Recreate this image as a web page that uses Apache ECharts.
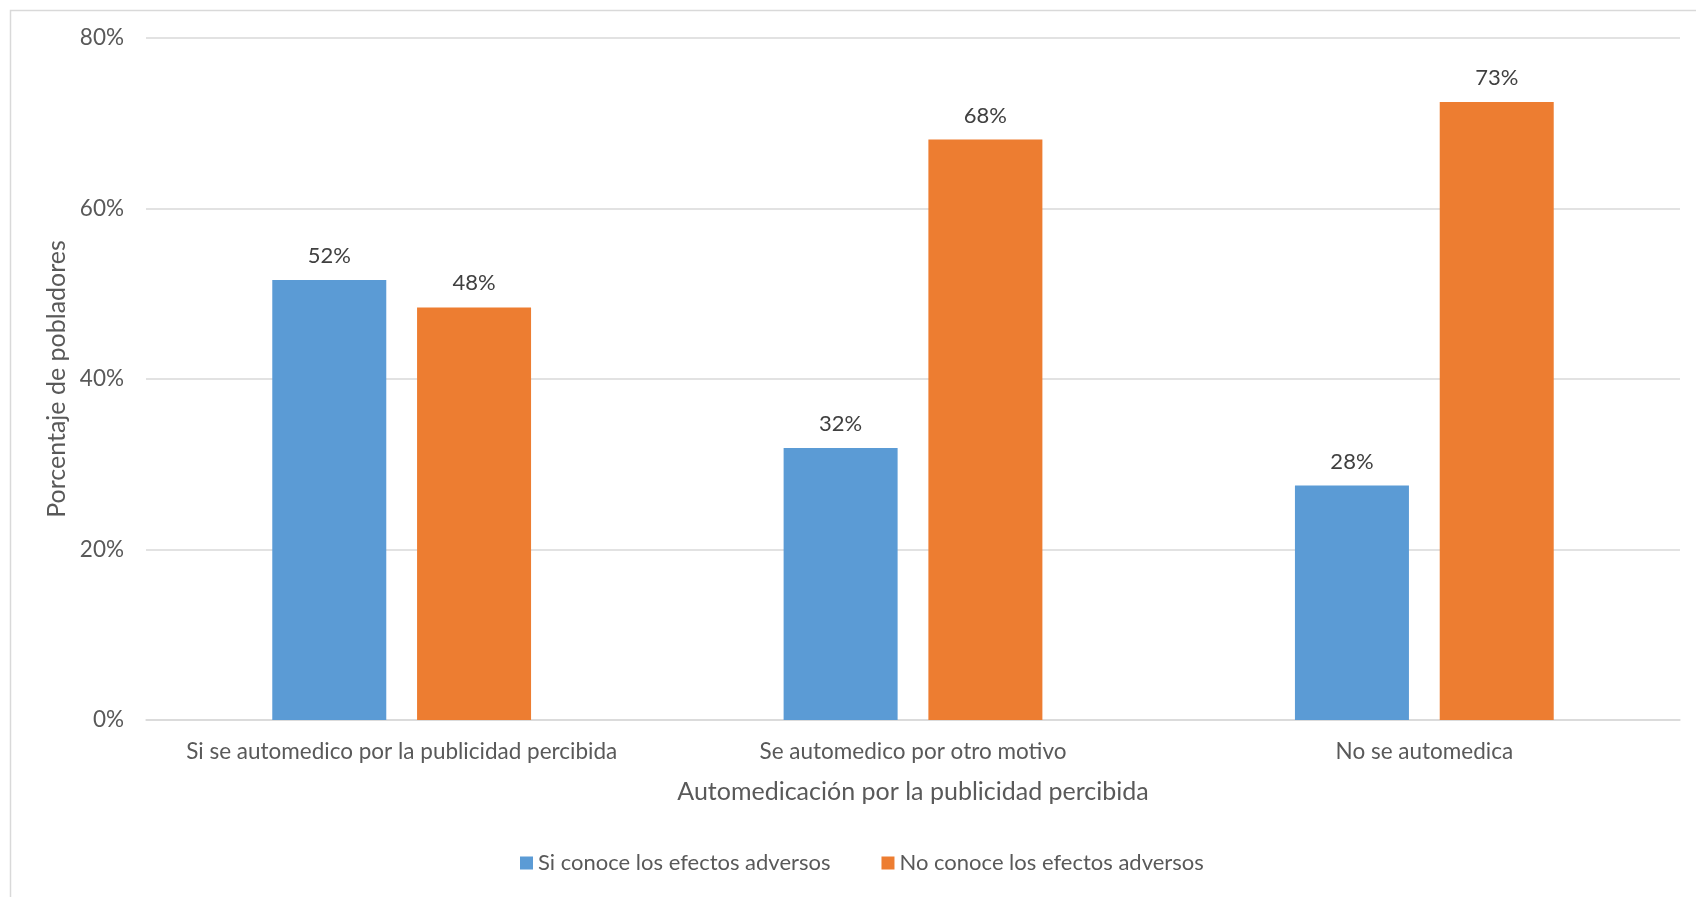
<!DOCTYPE html>
<html>
<head>
<meta charset="utf-8">
<script src="https://cdn.jsdelivr.net/npm/echarts@6/dist/echarts.min.js"></script>
<style>
html,body{margin:0;padding:0;background:#fff;}
#c{width:1696px;height:897px;}
</style>
</head>
<body>
<div id="c"></div>
<script>
const categories = ['Si se automedico por la publicidad percibida', 'Se automedico por otro motivo', 'No se automedica'];
const seriesNames = ['Si conoce los efectos adversos', 'No conoce los efectos adversos'];
const siConoce = [51.6, 31.9, 27.5];
const noConoce = [48.4, 68.1, 72.5];
const yTicks = [0, 20, 40, 60, 80];

const FONT = 'Lato';
const chart = echarts.init(document.getElementById('c'), null, {renderer: 'canvas'});
const labelCfg = {
  show: true, position: 'top', distance: 13,
  color: '#404040', fontSize: 22, fontFamily: FONT,
  formatter: p => Math.round(p.value) + '%'
};
chart.setOption({
  animation: false,
  backgroundColor: '#fff',
  textStyle: {fontFamily: FONT},
  graphic: [{
    type: 'rect', left: 8, top: 8,
    shape: {width: 1720, height: 920},
    style: {fill: 'none', stroke: '#D9D9D9', lineWidth: 1.5}
  }],
  grid: {left: 146, right: 16, top: 38, bottom: 177},
  legend: {
    left: 515, top: 847,
    itemWidth: 13, itemHeight: 13, itemGap: 51,
    icon: 'rect',
    textStyle: {color: '#595959', fontSize: 22, fontFamily: FONT},
    data: seriesNames
  },
  xAxis: {
    type: 'category', data: categories,
    axisLine: {lineStyle: {color: '#D9D9D9', width: 1.5}},
    axisTick: {show: false},
    axisLabel: {color: '#595959', fontSize: 22.5, fontFamily: FONT, margin: 20, interval: 0, hideOverlap: false},
    name: 'Automedicación por la publicidad percibida',
    nameLocation: 'middle', nameGap: 59,
    nameTextStyle: {color: '#595959', fontSize: 25, fontFamily: FONT}
  },
  yAxis: {
    type: 'value', min: yTicks[0], max: yTicks[yTicks.length - 1], interval: 20,
    axisLine: {show: false}, axisTick: {show: false},
    splitLine: {lineStyle: {color: '#D9D9D9', width: 1.5}},
    axisLabel: {color: '#595959', fontSize: 22.5, fontFamily: FONT, margin: 22, formatter: v => v + '%'},
    name: 'Porcentaje de pobladores',
    nameLocation: 'middle', nameGap: 74,
    nameTextStyle: {color: '#595959', fontSize: 25, fontFamily: FONT}
  },
  series: [
    {name: seriesNames[0], type: 'bar', data: siConoce, barWidth: 114, barGap: '27%',
     itemStyle: {color: '#5B9BD5'}, label: labelCfg},
    {name: seriesNames[1], type: 'bar', data: noConoce, barWidth: 114, barGap: '27%',
     itemStyle: {color: '#ED7D31'}, label: labelCfg}
  ]
});
</script>
</body>
</html>
